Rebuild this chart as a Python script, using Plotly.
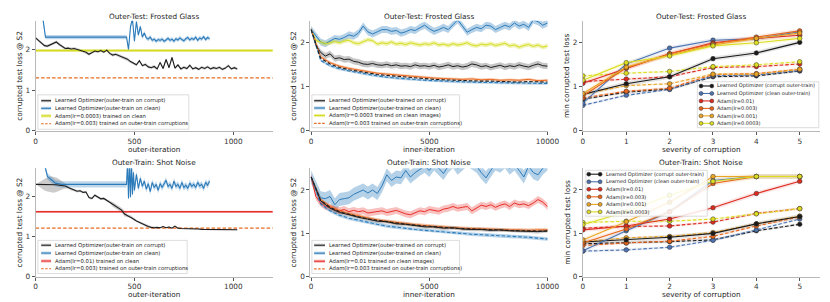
import plotly.graph_objects as go

# ---------------- data ----------------
# Panel 1: Outer-Test Frosted Glass vs outer-iteration
outer_x_corrupt = list(range(0, 1021, 15))
frost_outer_corrupt = [2.28, 2.22, 2.15, 2.09, 2.08, 2.12, 2.15, 2.18, 2.12, 2.06, 2.02,
                       2.03, 2.01, 2.02, 2.00, 1.98, 1.96, 1.93, 1.88, 1.93, 1.96, 1.94, 1.97, 1.93, 1.98, 1.90,
                       1.86, 1.88, 1.85, 1.81, 1.78,
                       1.76, 1.70, 1.66, 1.62, 1.72, 1.60, 1.63, 1.57, 1.55, 1.58,
                       1.52, 1.68, 1.53, 1.75, 1.55, 1.80, 1.54, 1.62, 1.52, 1.56, 1.53, 1.61, 1.52, 1.55,
                       1.51, 1.56, 1.53, 1.57, 1.52, 1.55, 1.53, 1.56, 1.51, 1.54, 1.60, 1.52, 1.55, 1.52]
frost_outer_corrupt_spread = 0.035
frost_outer_clean_x = [30, 40, 50, 460] + list(range(470, 881, 10))
frost_outer_clean = [3.0, 2.6, 2.3, 2.3,
                     2.00, 2.55, 2.75, 2.20, 2.68, 2.35, 2.56, 2.30, 2.40, 2.28,
                     2.25, 2.30, 2.22, 2.25, 2.20, 2.24, 2.22, 2.25, 2.20, 2.23,
                     2.27, 2.22, 2.25, 2.20, 2.26, 2.23, 2.28, 2.24, 2.21, 2.26,
                     2.29, 2.23, 2.27, 2.24, 2.30, 2.22, 2.28, 2.25, 2.31, 2.24,
                     2.29, 2.26]
frost_outer_clean_spread = 0.05
frost_adam_clean_level = 1.97
frost_adam_corrupt_level = 1.30

# Panel 4: Outer-Train Shot Noise vs outer-iteration
shot_outer_corrupt = [2.30, 2.30, 2.30, 2.30, 2.30, 2.30, 2.29, 2.29, 2.28, 2.27, 2.26,
                      2.22, 2.18, 2.16, 2.13, 2.14, 2.10, 2.11, 1.97, 1.95, 2.03, 1.98, 1.94, 1.95, 1.90, 1.86,
                      1.80, 1.74, 1.70, 1.66, 1.56,
                      1.52, 1.50, 1.44, 1.39, 1.35, 1.32, 1.28, 1.25, 1.23, 1.22,
                      1.23, 1.22, 1.25, 1.22, 1.24, 1.21, 1.26, 1.21, 1.20, 1.20, 1.20, 1.19, 1.19, 1.19,
                      1.19, 1.18, 1.18, 1.18, 1.18, 1.18, 1.18, 1.17, 1.17, 1.17, 1.17, 1.17, 1.17, 1.17]
shot_outer_corrupt_spread = ([0.0, 0.05, 0.10, 0.15, 0.18, 0.20, 0.20, 0.18, 0.15, 0.10, 0.06]
                             + [0.03] * 15 + [0.06] * 5 + [0.03] * 10 + [0.015] * 28)
shot_outer_clean_x = [35, 60, 100, 130, 460] + list(range(465, 496, 5)) + list(range(500, 881, 10))
shot_outer_clean = [3.0, 2.5, 2.33, 2.30, 2.30,
                    2.85, 1.95, 2.85, 1.98, 2.85, 2.05, 2.60,
                    2.15, 2.55, 2.20, 2.45, 2.25, 2.38, 2.18, 2.32, 2.12, 2.35,
                    2.22, 2.30, 2.15, 2.32, 2.22, 2.30, 2.40, 2.25, 2.30, 2.20,
                    2.38, 2.25, 2.30, 2.20, 2.35, 2.22, 2.28, 2.20, 2.33, 2.25,
                    2.30, 2.22, 2.35, 2.26, 2.30, 2.20, 2.35, 2.28, 2.38]
shot_outer_clean_spread = 0.08
shot_adam_clean_level = 1.62
shot_adam_corrupt_level = 1.21

# Panels 2 and 5: vs inner-iteration
inner_x = list(range(0, 10001, 200))
inner_x_coarse = list(range(0, 10001, 400))
frost_in_corrupt = [2.30, 1.95, 1.78, 1.70, 1.75, 1.64, 1.66, 1.62, 1.63, 1.58,
                    1.56, 1.52, 1.51, 1.53, 1.50, 1.49, 1.51, 1.48, 1.50, 1.47,
                    1.48, 1.46, 1.50, 1.47, 1.48, 1.46, 1.49, 1.45, 1.47, 1.50,
                    1.46, 1.48, 1.45, 1.47, 1.52, 1.50, 1.46, 1.48, 1.44, 1.47,
                    1.49, 1.45, 1.48, 1.46, 1.50, 1.47, 1.45, 1.49, 1.52, 1.48, 1.47]
frost_in_clean = [2.30, 2.15, 2.02, 1.98, 2.05, 2.10, 2.08, 2.12, 2.18, 2.15,
                  2.22, 2.38, 2.25, 2.20, 2.25, 2.30, 2.30, 2.26, 2.28, 2.22,
                  2.25, 2.30, 2.28, 2.35, 2.40, 2.32, 2.26, 2.30, 2.35, 2.30,
                  2.42, 2.52, 2.38, 2.24, 2.30, 2.35, 2.32, 2.40, 2.38, 2.30,
                  2.35, 2.40, 2.36, 2.45, 2.38, 2.42, 2.35, 2.52, 2.48, 2.40, 2.45]
frost_in_adam_clean = [2.30, 2.05, 2.02, 1.98, 2.00, 2.03, 2.00, 2.04, 2.06, 2.00,
                       1.98, 2.03, 2.07, 2.05, 1.97, 2.00, 1.98, 2.02, 1.97, 1.99,
                       1.96, 2.00, 1.97, 1.95, 1.98, 1.96, 2.00, 1.95, 1.97, 1.94,
                       1.98, 1.95, 1.97, 2.00, 1.95, 1.93, 1.97, 1.95, 1.98, 1.94,
                       1.96, 1.99, 1.93, 1.95, 1.90, 1.94, 1.96, 1.92, 1.95, 1.90, 1.93]
frost_in_adam_corrupt = [2.30, 1.68, 1.55, 1.47, 1.42, 1.38, 1.34, 1.31, 1.29, 1.27, 1.25, 1.23, 1.22,
                         1.20, 1.19, 1.18, 1.17, 1.18, 1.16, 1.17, 1.15, 1.16, 1.15, 1.17, 1.14, 1.15]
frost_in_black_dash = [2.30, 1.65, 1.52, 1.44, 1.39, 1.35, 1.31, 1.28, 1.26, 1.24, 1.22, 1.20, 1.19,
                       1.17, 1.16, 1.15, 1.14, 1.14, 1.13, 1.13, 1.12, 1.12, 1.11, 1.12, 1.11, 1.11]
frost_in_blue_dash = [2.30, 1.60, 1.48, 1.41, 1.36, 1.32, 1.28, 1.25, 1.22, 1.20, 1.18, 1.16, 1.15,
                      1.14, 1.13, 1.12, 1.11, 1.11, 1.10, 1.10, 1.09, 1.09, 1.09, 1.08, 1.08, 1.08]

shot_in_corrupt = [2.30, 1.75, 1.58, 1.48, 1.43, 1.37, 1.33, 1.28, 1.27, 1.22, 1.21, 1.18, 1.15,
                   1.15, 1.12, 1.13, 1.10, 1.09, 1.09, 1.07, 1.08, 1.06, 1.05, 1.05, 1.04, 1.06]
shot_in_clean = [2.30, 2.05, 1.82, 1.80, 1.85, 1.66, 1.78, 1.80, 1.82, 1.90,
                 1.95, 2.00, 1.93, 2.00, 1.92, 2.10, 2.35, 2.22, 2.30, 2.28,
                 2.45, 2.30, 2.40, 2.48, 2.55, 2.45, 2.60, 2.50, 2.38, 2.55,
                 2.65, 2.50, 2.60, 2.70, 2.62, 2.55, 2.40, 2.28, 2.45, 2.60,
                 2.55, 2.65, 2.50, 2.60, 2.45, 2.30, 2.55, 2.40, 2.35, 2.50, 2.60]
shot_in_adam_clean = [2.30, 1.85, 1.70, 1.62, 1.60, 1.55, 1.52, 1.55, 1.50, 1.53,
                      1.50, 1.52, 1.47, 1.49, 1.50, 1.52, 1.48, 1.50, 1.53, 1.49,
                      1.45, 1.43, 1.48, 1.52, 1.50, 1.55, 1.53, 1.51, 1.56, 1.58,
                      1.62, 1.58, 1.60, 1.62, 1.52, 1.58, 1.65, 1.62, 1.66, 1.60,
                      1.65, 1.68, 1.62, 1.70, 1.66, 1.68, 1.64, 1.70, 1.78, 1.72, 1.62]
shot_in_adam_corrupt = [2.30, 1.78, 1.62, 1.52, 1.45, 1.40, 1.35, 1.31, 1.28, 1.25, 1.22, 1.20, 1.18,
                        1.16, 1.14, 1.13, 1.12, 1.11, 1.10, 1.10, 1.09, 1.08, 1.08, 1.07, 1.08, 1.08]
shot_in_black_dash = [2.30, 1.76, 1.60, 1.50, 1.44, 1.38, 1.33, 1.30, 1.27, 1.23, 1.21, 1.19, 1.17,
                      1.15, 1.13, 1.12, 1.11, 1.10, 1.09, 1.08, 1.07, 1.07, 1.06, 1.06, 1.05, 1.05]
shot_in_blue_dash = [2.30, 1.68, 1.52, 1.42, 1.35, 1.30, 1.25, 1.21, 1.17, 1.14, 1.11, 1.09, 1.07,
                     1.05, 1.03, 1.02, 1.00, 0.98, 0.97, 0.96, 0.94, 0.93, 0.92, 0.91, 0.89, 0.87]

# Panels 3 and 6: vs severity
severity = [0, 1, 2, 3, 4, 5]
frost_sev_solid_black = [0.83, 1.07, 1.23, 1.64, 1.77, 2.01]
frost_sev_solid_blue = [0.63, 1.52, 1.88, 2.06, 2.09, 2.25]
frost_sev_solid_red = [1.08, 1.42, 1.75, 2.00, 2.10, 2.17]
frost_sev_solid_orange = [0.80, 1.43, 1.75, 1.98, 2.13, 2.27]
frost_sev_solid_gold = [0.85, 1.45, 1.72, 1.95, 2.10, 2.22]
frost_sev_solid_yellow = [1.15, 1.55, 1.70, 1.93, 2.00, 2.10]
frost_sev_dash_black = [0.72, 0.88, 0.95, 1.23, 1.25, 1.36]
frost_sev_dash_blue = [0.58, 0.81, 0.94, 1.25, 1.27, 1.37]
frost_sev_dash_red = [1.12, 1.18, 1.23, 1.44, 1.46, 1.52]
frost_sev_dash_orange = [0.75, 0.90, 0.97, 1.28, 1.30, 1.40]
frost_sev_dash_gold = [0.83, 1.03, 1.07, 1.29, 1.29, 1.40]
frost_sev_dash_yellow = [1.25, 1.31, 1.35, 1.46, 1.50, 1.57]

shot_sev_solid_black = [0.80, 0.85, 0.91, 1.00, 1.22, 1.39]
shot_sev_solid_blue = [0.60, 1.06, 1.50, 2.22, 2.31, 2.31]
shot_sev_solid_red = [1.08, 1.17, 1.33, 1.59, 1.92, 2.20]
shot_sev_solid_orange = [0.78, 1.10, 1.50, 2.15, 2.31, 2.31]
shot_sev_solid_gold = [0.85, 1.27, 1.72, 2.31, 2.31, 2.31]
shot_sev_solid_yellow = [1.20, 1.50, 1.88, 2.20, 2.31, 2.31]
shot_sev_dash_black = [0.76, 0.78, 0.81, 0.85, 1.06, 1.21]
shot_sev_dash_blue = [0.59, 0.62, 0.68, 0.84, 1.08, 1.33]
shot_sev_dash_red = [1.12, 1.16, 1.17, 1.26, 1.46, 1.57]
shot_sev_dash_orange = [0.72, 0.78, 0.82, 0.93, 1.17, 1.38]
shot_sev_dash_gold = [0.80, 0.90, 0.93, 1.02, 1.22, 1.40]
shot_sev_dash_yellow = [1.25, 1.28, 1.28, 1.33, 1.45, 1.57]

# ---------------- style ----------------
W, H = 830, 302
FONT = "DejaVu Sans"
C_BLACK = "#1e1e1e"
C_BLUE = "#2b7bba"
C_YELLOW = "#d4dc22"
C_RED = "#e8302a"
C_ORANGE = "#ea6a1f"
S_BLACK = "#1a1a1a"
S_BLUE = "#4c72b0"
S_RED = "#dd2a1e"
S_ORANGE = "#e8641a"
S_GOLD = "#eba424"
S_YELLOW = "#dcdc22"


def rgba(hexc, a):
    h = hexc.lstrip('#')
    return "rgba(%d,%d,%d,%s)" % (int(h[0:2], 16), int(h[2:4], 16), int(h[4:6], 16), a)


def px(x):
    return x / W


def py(y):
    return 1 - y / H


# panel geometry (pixel boxes)
panels = {
    1: dict(xd=(26, 267), yd=(13, 125), xr=[0, 1200], yr=[0, 2.7], xt=[0, 500, 1000]),
    2: dict(xd=(305, 547), yd=(13, 125), xr=[-40, 10040], yr=[0, 2.5], xt=[0, 5000, 10000]),
    3: dict(xd=(582, 823), yd=(13, 125), xr=[0, 5.47], yr=[0, 2.5], xt=[0, 1, 2, 3, 4, 5]),
    4: dict(xd=(26, 267), yd=(163, 273.3), xr=[0, 1200], yr=[0, 2.7], xt=[0, 500, 1000]),
    5: dict(xd=(305, 547), yd=(163, 273.3), xr=[-40, 10040], yr=[0, 2.5], xt=[0, 5000, 10000]),
    6: dict(xd=(582, 823), yd=(163, 273.3), xr=[0, 5.47], yr=[0, 2.5], xt=[0, 1, 2, 3, 4, 5]),
}

fig = go.Figure()


def an(i):
    return '' if i == 1 else str(i)


def band(i, x, y, spread, color):
    if isinstance(spread, (int, float)):
        spread = [spread] * len(y)
    hi = [v + s for v, s in zip(y, spread)]
    lo = [v - s for v, s in zip(y, spread)]
    fig.add_trace(go.Scatter(x=list(x) + list(x)[::-1], y=hi + lo[::-1], fill='toself',
                             fillcolor=color, line=dict(width=0), mode='lines', hoverinfo='skip',
                             showlegend=False, xaxis='x' + an(i), yaxis='y' + an(i)))


def line(i, x, y, color, width=1.0, dash='solid', markers=False):
    kw = {}
    if markers:
        kw['marker'] = dict(size=4.6, color=color, line=dict(color='#333333', width=0.5))
    fig.add_trace(go.Scatter(x=list(x), y=list(y), mode='lines+markers' if markers else 'lines',
                             line=dict(color=color, width=width, dash=dash), showlegend=False,
                             xaxis='x' + an(i), yaxis='y' + an(i), **kw))


DASH = "3.5px,2px"

# ---- panel 1 ----
band(1, outer_x_corrupt, frost_outer_corrupt, frost_outer_corrupt_spread, rgba('#808080', 0.35))
band(1, frost_outer_clean_x, frost_outer_clean, frost_outer_clean_spread, rgba(C_BLUE, 0.3))
xr1 = panels[1]['xr']
band(1, xr1, [frost_adam_clean_level] * 2, 0.035, rgba(C_YELLOW, 0.45))
line(1, xr1, [frost_adam_clean_level] * 2, C_YELLOW, 1.6)
line(1, xr1, [frost_adam_corrupt_level] * 2, C_ORANGE, 1.1, DASH)
line(1, frost_outer_clean_x, frost_outer_clean, C_BLUE, 1.1)
line(1, outer_x_corrupt, frost_outer_corrupt, C_BLACK, 1.1)

# ---- panel 4 ----
band(4, outer_x_corrupt, shot_outer_corrupt, shot_outer_corrupt_spread, rgba('#808080', 0.4))
band(4, shot_outer_clean_x, shot_outer_clean, shot_outer_clean_spread, rgba(C_BLUE, 0.3))
band(4, xr1, [shot_adam_clean_level] * 2, 0.025, rgba(C_RED, 0.3))
line(4, xr1, [shot_adam_clean_level] * 2, C_RED, 1.5)
line(4, xr1, [shot_adam_corrupt_level] * 2, C_ORANGE, 1.1, DASH)
line(4, shot_outer_clean_x, shot_outer_clean, C_BLUE, 1.1)
line(4, outer_x_corrupt, shot_outer_corrupt, C_BLACK, 1.1)

# ---- panel 2 ----
band(2, inner_x, frost_in_clean, 0.08, rgba(C_BLUE, 0.35))
band(2, inner_x, frost_in_adam_clean, 0.05, rgba(C_YELLOW, 0.35))
band(2, inner_x, frost_in_corrupt, 0.07, rgba('#808080', 0.45))
band(2, inner_x_coarse, frost_in_blue_dash, 0.03, rgba(C_BLUE, 0.35))
band(2, inner_x_coarse, frost_in_adam_corrupt, 0.03, rgba(C_ORANGE, 0.35))
line(2, inner_x, frost_in_clean, C_BLUE, 1.0)
line(2, inner_x, frost_in_adam_clean, C_YELLOW, 1.0)
line(2, inner_x, frost_in_corrupt, C_BLACK, 1.0)
line(2, inner_x_coarse, frost_in_adam_corrupt, C_ORANGE, 1.0)
line(2, inner_x_coarse, frost_in_blue_dash, C_BLUE, 1.1, DASH)
line(2, inner_x_coarse, frost_in_black_dash, C_BLACK, 1.1, DASH)

# ---- panel 5 ----
band(5, inner_x, shot_in_clean, 0.15, rgba(C_BLUE, 0.35))
band(5, inner_x, shot_in_adam_clean, 0.08, rgba(C_RED, 0.3))
band(5, inner_x_coarse, shot_in_blue_dash, 0.04, rgba(C_BLUE, 0.35))
band(5, inner_x_coarse, shot_in_adam_corrupt, 0.04, rgba(C_ORANGE, 0.4))
band(5, inner_x_coarse, shot_in_corrupt, 0.04, rgba('#808080', 0.45))
line(5, inner_x, shot_in_clean, C_BLUE, 1.0)
line(5, inner_x, shot_in_adam_clean, C_RED, 1.0)
line(5, inner_x_coarse, shot_in_adam_corrupt, C_ORANGE, 1.0)
line(5, inner_x_coarse, shot_in_corrupt, C_BLACK, 1.0)
line(5, inner_x_coarse, shot_in_blue_dash, C_BLUE, 1.1, DASH)
line(5, inner_x_coarse, shot_in_black_dash, C_BLACK, 1.1, DASH)

# ---- panels 3 and 6 ----
sev_sets = {
    3: [(frost_sev_solid_black, frost_sev_dash_black, S_BLACK),
        (frost_sev_solid_blue, frost_sev_dash_blue, S_BLUE),
        (frost_sev_solid_red, frost_sev_dash_red, S_RED),
        (frost_sev_solid_orange, frost_sev_dash_orange, S_ORANGE),
        (frost_sev_solid_gold, frost_sev_dash_gold, S_GOLD),
        (frost_sev_solid_yellow, frost_sev_dash_yellow, S_YELLOW)],
    6: [(shot_sev_solid_black, shot_sev_dash_black, S_BLACK),
        (shot_sev_solid_blue, shot_sev_dash_blue, S_BLUE),
        (shot_sev_solid_red, shot_sev_dash_red, S_RED),
        (shot_sev_solid_orange, shot_sev_dash_orange, S_ORANGE),
        (shot_sev_solid_gold, shot_sev_dash_gold, S_GOLD),
        (shot_sev_solid_yellow, shot_sev_dash_yellow, S_YELLOW)],
}
for i, sets in sev_sets.items():
    for solid, dashed, col in sets:
        band(i, severity, solid, 0.05, rgba(col, 0.12))
        band(i, severity, dashed, 0.03, rgba(col, 0.12))
    for solid, dashed, col in sets:
        line(i, severity, dashed, col, 1.1, DASH, markers=True)
    for solid, dashed, col in sets:
        line(i, severity, solid, col, 1.1, 'solid', markers=True)

# ---------------- axes ----------------
layout = dict(width=W, height=H, margin=dict(l=0, r=0, t=0, b=0),
              paper_bgcolor='white', plot_bgcolor='white',
              font=dict(family=FONT, size=7.3, color='#333333'), showlegend=False)
for i, p in panels.items():
    common = dict(showgrid=False, zeroline=False, showline=True, linecolor='#b8b8b8', linewidth=0.8,
                  ticks='outside', ticklen=3, tickwidth=0.8, tickcolor='#555555',
                  tickfont=dict(size=7.3, color='#333333', family=FONT))
    layout['xaxis' + an(i)] = dict(domain=[px(p['xd'][0]), px(p['xd'][1])], range=p['xr'],
                                   anchor='y' + an(i), tickvals=p['xt'],
                                   ticktext=[str(v) for v in p['xt']], **common)
    layout['yaxis' + an(i)] = dict(domain=[py(p['yd'][1]), py(p['yd'][0])], range=p['yr'],
                                   anchor='x' + an(i), tickvals=[0, 1, 2], ticktext=['0', '1', '2'],
                                   **common)

annotations = []
shapes = []


def text(x, y, s, size=7.3, angle=0, xanchor='center', color='#262626'):
    annotations.append(dict(x=px(x), y=py(y), xref='paper', yref='paper', text=s, showarrow=False,
                            xanchor=xanchor, yanchor='middle', textangle=angle,
                            font=dict(family=FONT, size=size, color=color)))


titles = {1: "Outer-Test: Frosted Glass", 2: "Outer-Test: Frosted Glass", 3: "Outer-Test: Frosted Glass",
          4: "Outer-Train: Shot Noise", 5: "Outer-Train: Shot Noise", 6: "Outer-Train: Shot Noise"}
xtitles = {1: "outer-iteration", 2: "inner-iteration", 3: "severity of corruption",
           4: "outer-iteration", 5: "inner-iteration", 6: "severity of corruption"}
ytitles = {1: "corrupted test loss @ S2", 2: "corrupted test loss @ S2", 3: "min corrupted test loss",
           4: "corrupted test loss @ S2", 5: "corrupted test loss @ S2", 6: "min corrupted test loss"}
ytitle_x = {1: 10, 2: 288.5, 3: 566, 4: 10, 5: 288.5, 6: 566}
for i, p in panels.items():
    cx = (p['xd'][0] + p['xd'][1]) / 2
    top = i <= 3
    text(cx, 8.5 if top else 157.5, titles[i])
    text(cx, 144 if top else 291.5, xtitles[i])
    text(ytitle_x[i], (p['yd'][0] + p['yd'][1]) / 2, ytitles[i], angle=-90)


def legend(box, ys, sx, tx, entries, fs):
    x0, y0, x1, y1 = box
    shapes.append(dict(type='rect', xref='paper', yref='paper', x0=px(x0), x1=px(x1), y0=py(y1), y1=py(y0),
                       line=dict(color='#d4d4d4', width=0.8), fillcolor='rgba(255,255,255,0.85)', layer='above'))
    for yc, (label, col, dash, bandcol, mark) in zip(ys, entries):
        if bandcol:
            shapes.append(dict(type='rect', xref='paper', yref='paper', x0=px(sx[0]), x1=px(sx[1]),
                               y0=py(yc + 1.6), y1=py(yc - 1.6), line=dict(width=0), fillcolor=bandcol,
                               layer='above'))
        shapes.append(dict(type='line', xref='paper', yref='paper', x0=px(sx[0]), x1=px(sx[1]),
                           y0=py(yc), y1=py(yc), line=dict(color=col, width=1.1, dash=dash), layer='above'))
        if mark:
            for mx in sx:
                shapes.append(dict(type='circle', xref='paper', yref='paper', x0=px(mx - 2.0), x1=px(mx + 2.0),
                                   y0=py(yc + 2.0), y1=py(yc - 2.0), fillcolor=col,
                                   line=dict(color='#333333', width=0.5), layer='above'))
        text(tx, yc, label, size=fs, xanchor='left', color='#1a1a1a')


legend((28.3, 88.3, 181.7, 123.3), [94.3, 102, 109.7, 117.7], (31.7, 41.7), 43.5, [
    ("Learned Optimizer(outer-train on corrupt)", C_BLACK, 'solid', rgba('#808080', 0.35), False),
    ("Learned Optimizer(outer-train on clean)", C_BLUE, 'solid', rgba(C_BLUE, 0.3), False),
    ("Adam(lr=0.0003) trained on clean", C_YELLOW, 'solid', rgba(C_YELLOW, 0.5), False),
    ("Adam(lr=0.003) trained on outer-train corruptions", C_ORANGE, '2.5px,1.5px', None, False)], 5.3)
legend((28.3, 236.3, 180, 270), [241.2, 249.2, 257.3, 265.1], (31.7, 41.7), 43.5, [
    ("Learned Optimizer(outer-train on corrupt)", C_BLACK, 'solid', rgba('#808080', 0.35), False),
    ("Learned Optimizer(outer-train on clean)", C_BLUE, 'solid', rgba(C_BLUE, 0.3), False),
    ("Adam(lr=0.01) trained on clean", C_RED, 'solid', rgba(C_RED, 0.35), False),
    ("Adam(lr=0.003) trained on outer-train corruptions", C_ORANGE, '2.5px,1.5px', None, False)], 5.3)
legend((306.7, 88.3, 456.7, 121.7), [94.3, 101.7, 109.3, 117.3], (309, 320), 322.5, [
    ("Learned Optimizer(outer-trained on corrupt)", C_BLACK, 'solid', rgba('#808080', 0.35), False),
    ("Learned Optimizer(outer-trained on clean)", C_BLUE, 'solid', rgba(C_BLUE, 0.3), False),
    ("Adam(lr=0.0003 trained on clean images)", C_YELLOW, 'solid', rgba(C_YELLOW, 0.4), False),
    ("Adam(lr=0.003 trained on outer-train corruptions)", C_ORANGE, '2.5px,1.5px', None, False)], 5.3)
legend((306.7, 236.3, 456.7, 270), [241.2, 249.3, 257.5, 265.3], (309, 320), 322.5, [
    ("Learned Optimizer(outer-trained on corrupt)", C_BLACK, 'solid', rgba('#808080', 0.35), False),
    ("Learned Optimizer(outer-trained on clean)", C_BLUE, 'solid', rgba(C_BLUE, 0.3), False),
    ("Adam(lr=0.01 trained on clean images)", C_RED, 'solid', rgba(C_RED, 0.35), False),
    ("Adam(lr=0.003 trained on outer-train corruptions)", C_ORANGE, '2.5px,1.5px', None, False)], 5.3)
sev_labels = ["Learned Optimizer (corrupt outer-train)", "Learned Optimizer (clean outer-train)",
              "Adam(lr=0.01)", "Adam(lr=0.003)", "Adam(lr=0.001)", "Adam(lr=0.0003)"]
sev_cols = [S_BLACK, S_BLUE, S_RED, S_ORANGE, S_GOLD, S_YELLOW]
legend((698.3, 75, 821.7, 121.7), [79.3, 86.9, 94.5, 102.1, 109.7, 117.3], (702, 713), 716.5,
       [(l, c, 'solid', None, True) for l, c in zip(sev_labels, sev_cols)], 5.0)
legend((585, 165, 708.3, 211.7), [169, 176.7, 184.3, 192, 199.7, 207.3], (588, 599.5), 603,
       [(l, c, 'solid', None, True) for l, c in zip(sev_labels, sev_cols)], 5.0)

layout['annotations'] = annotations
layout['shapes'] = shapes
fig.update_layout(**layout)
fig.write_html("out.html")
